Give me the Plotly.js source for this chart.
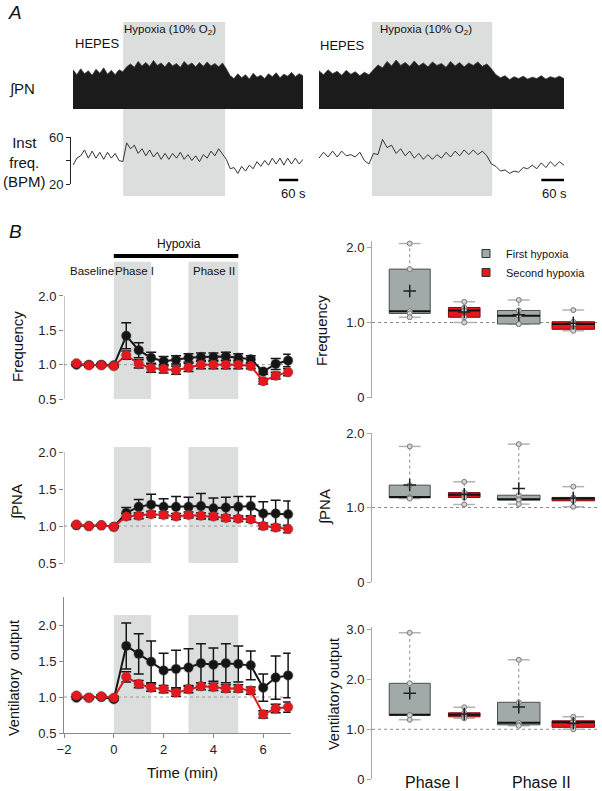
<!DOCTYPE html>
<html><head><meta charset="utf-8">
<script src="https://cdn.plot.ly/plotly-3.0.1.min.js"></script>
<style>html,body{margin:0;padding:0;background:#fff}</style>
</head><body><div id="chart" style="width:602px;height:791px"></div>
<script>
// ---------------- Panel A data (read from the recordings) ----------------
const leftPNStep = 12;   // s between envelope samples
const leftPNEnvelope = [0.80,0.70,0.82,0.72,0.78,0.69,0.81,0.73,0.84,0.71,0.79,0.70,0.80,0.76,
  0.86,0.92,0.85,0.97,0.88,0.95,0.87,0.99,0.89,0.94,0.86,0.96,0.88,0.93,0.85,0.97,0.89,0.94,0.86,0.95,0.87,0.96,0.88,0.93,0.86,0.94,
  0.82,0.68,0.62,0.72,0.64,0.70,0.61,0.73,0.65,0.69,0.62,0.72,0.66,0.74,0.64,0.71,0.67,0.75,0.66,0.72,0.68];
const leftFreqStep = 12;
const leftFreqBPM = [36,42,44,49,42,48,42,47,41,47,42,46,40,39,55,50,53,46,50,44,49,43,47,41,46,41,46,42,47,41,45,40,44,39,45,42,48,44,50,45,41,33,34,29,35,31,36,33,39,35,40,36,42,37,42,36,42,37,42,37,41];
const rightPNStep = 12;
const rightPNEnvelope = [0.78,0.70,0.80,0.72,0.77,0.69,0.79,0.71,0.76,0.68,0.75,0.70,
  0.80,0.90,0.84,0.97,0.88,1.00,0.89,0.95,0.87,0.98,0.88,0.94,0.86,0.96,0.89,0.93,0.85,0.97,0.88,0.95,0.86,0.94,0.89,0.96,0.87,0.92,
  0.82,0.70,0.64,0.68,0.60,0.66,0.62,0.67,0.61,0.65,0.62,0.68,0.61,0.66,0.63,0.67,0.62];
const rightFreqStep = 12;
const rightFreqBPM = [42,47,43,48,43,48,44,45,43,47,40,37,46,45,58,51,53,46,50,44,48,42,46,41,45,41,45,42,47,43,48,44,49,45,49,45,48,44,37,35,31,32,29,31,30,34,33,36,33,38,34,39,35,39,36];
const leftHypoxiaSec = [157, 476];
const rightHypoxiaSec = [140, 458];
const leftScaleBarSec = [645, 705];
const rightScaleBarSec = [588, 648];
const freqTickVals = [20, 60];
const freqMinorTick = [40];

// ---------------- Panel B time-course data ----------------
const timeMin = [-1.5,-1,-0.5,0,0.5,1,1.5,2,2.5,3,3.5,4,4.5,5,5.5,6,6.5,7];
const freqFirst     = [1.00,1.00,1.00,0.99,1.42,1.21,1.10,1.05,1.07,1.10,1.11,1.11,1.12,1.10,1.08,0.90,1.01,1.06];
const freqFirstErr  = [0.02,0.02,0.02,0.02,0.19,0.11,0.08,0.07,0.06,0.06,0.06,0.06,0.06,0.06,0.05,0.04,0.08,0.09];
const freqSecond    = [1.02,0.99,0.99,0.98,1.14,1.01,0.95,0.94,0.92,0.96,1.00,1.00,1.00,1.00,0.98,0.76,0.84,0.89];
const freqSecondErr = [0.02,0.02,0.02,0.02,0.06,0.06,0.06,0.06,0.06,0.06,0.06,0.06,0.06,0.06,0.04,0.04,0.05,0.05];
const pnaFirst      = [1.01,1.00,1.01,0.99,1.18,1.26,1.29,1.26,1.26,1.26,1.27,1.24,1.25,1.26,1.27,1.17,1.17,1.16];
const pnaFirstErr   = [0.01,0.01,0.01,0.01,0.07,0.10,0.14,0.11,0.14,0.13,0.17,0.14,0.14,0.14,0.13,0.16,0.18,0.18];
const pnaSecond     = [1.02,1.00,1.01,0.99,1.13,1.14,1.16,1.15,1.13,1.15,1.14,1.13,1.11,1.10,1.09,1.00,0.98,0.96];
const pnaSecondErr  = [0.01,0.01,0.01,0.01,0.04,0.04,0.04,0.04,0.04,0.04,0.04,0.04,0.04,0.04,0.04,0.04,0.04,0.05];
const ventFirst     = [0.99,0.99,1.00,0.97,1.71,1.60,1.49,1.37,1.39,1.41,1.47,1.45,1.47,1.46,1.44,1.13,1.27,1.30];
const ventFirstErr  = [0.02,0.02,0.02,0.02,0.32,0.28,0.29,0.24,0.26,0.26,0.27,0.23,0.27,0.25,0.20,0.19,0.30,0.31];
const ventSecond    = [1.02,0.99,1.01,0.99,1.28,1.18,1.13,1.11,1.06,1.11,1.15,1.14,1.12,1.12,1.09,0.76,0.84,0.86];
const ventSecondErr = [0.02,0.02,0.02,0.02,0.07,0.05,0.05,0.05,0.05,0.05,0.05,0.05,0.05,0.05,0.05,0.05,0.06,0.07];
const phaseIWindow = [0, 1.5];
const phaseIIWindow = [3, 5];
const hypoxiaWindow = [0, 5];
const timeTicks = [-2, 0, 2, 4, 6];

// ---------------- Panel B box-plot data (individual values) ----------------
const phaseNames = ['Phase I', 'Phase II'];
const groupNames = ['First hypoxia', 'Second hypoxia'];
const freqFirstPhaseI   = [2.05,1.71,1.15,1.12,1.07];
const freqFirstPhaseII  = [1.30,1.16,1.09,0.98,0.98];
const freqSecondPhaseI  = [1.275,1.20,1.16,1.07,1.00];
const freqSecondPhaseII = [1.165,1.01,0.98,0.91,0.89];
const pnaFirstPhaseI    = [1.82,1.30,1.14,1.13,1.12];
const pnaFirstPhaseII   = [1.85,1.165,1.11,1.10,1.045];
const pnaSecondPhaseI   = [1.345,1.20,1.17,1.135,1.04];
const pnaSecondPhaseII  = [1.28,1.135,1.12,1.09,1.01];
const ventFirstPhaseI   = [2.93,1.92,1.29,1.28,1.19];
const ventFirstPhaseII  = [2.39,1.54,1.13,1.09,1.07];
const ventSecondPhaseI  = [1.44,1.33,1.29,1.25,1.22];
const ventSecondPhaseII = [1.25,1.17,1.14,1.04,1.00];

// ---------------- helpers ----------------
const W = 602, H = 791;
const fx = p => p / W;
const fy = p => 1 - p / H;
const FONT = 'Liberation Sans, Arial, Helvetica, sans-serif';
const times = (n, step) => Array.from({length: n}, (_, i) => i * step);
const quant = (s, p) => { const pos = (s.length - 1) * p, lo = Math.floor(pos), hi = Math.ceil(pos); return s[lo] + (s[hi] - s[lo]) * (pos - lo); };
const BLACK = '#151515', RED = '#e8161d';
const SHADE = '#dcdedd';

const traces = [];
// Panel A traces
traces.push({x: times(leftPNEnvelope.length, leftPNStep), y: leftPNEnvelope, xaxis: 'x', yaxis: 'y', type: 'scatter', mode: 'lines', fill: 'tozeroy', fillcolor: '#1b1b1b', line: {color: '#3a3a3a', width: 0.8}, showlegend: false, hoverinfo: 'skip'});
traces.push({x: times(leftFreqBPM.length, leftFreqStep), y: leftFreqBPM, xaxis: 'x', yaxis: 'y2', type: 'scatter', mode: 'lines', line: {color: '#333', width: 1}, showlegend: false, hoverinfo: 'skip'});
traces.push({x: times(rightPNEnvelope.length, rightPNStep), y: rightPNEnvelope, xaxis: 'x2', yaxis: 'y3', type: 'scatter', mode: 'lines', fill: 'tozeroy', fillcolor: '#1b1b1b', line: {color: '#3a3a3a', width: 0.8}, showlegend: false, hoverinfo: 'skip'});
traces.push({x: times(rightFreqBPM.length, rightFreqStep), y: rightFreqBPM, xaxis: 'x2', yaxis: 'y4', type: 'scatter', mode: 'lines', line: {color: '#333', width: 1}, showlegend: false, hoverinfo: 'skip'});

// Panel B time-course traces
const series = [
  {ax: 'y5', first: freqFirst, firstErr: freqFirstErr, second: freqSecond, secondErr: freqSecondErr},
  {ax: 'y6', first: pnaFirst, firstErr: pnaFirstErr, second: pnaSecond, secondErr: pnaSecondErr},
  {ax: 'y7', first: ventFirst, firstErr: ventFirstErr, second: ventSecond, secondErr: ventSecondErr}
];
series.forEach(s => {
  [[s.first, s.firstErr, BLACK], [s.second, s.secondErr, RED]].forEach(([v, e, c]) => {
    traces.push({x: timeMin, y: v, xaxis: 'x3', yaxis: s.ax, type: 'scatter', mode: 'lines+markers',
      line: {color: c, width: 2}, marker: {color: c, size: 9.5, line: {color: 'rgba(70,70,70,0.3)', width: 1.5}},
      error_y: {type: 'data', array: e, visible: true, color: BLACK, thickness: 1.5, width: 5},
      showlegend: false, cliponaxis: false, hoverinfo: 'skip'});
  });
});

// Panel B box plots
const groupOffset = [-0.25, 0.25];
const boxWidths = [[0.376, 0.39], [0.29, 0.39]];
const capHalf = 0.1;
const boxFill = ['#a2aaa9', RED];
const boxLine = ['#4a4f4f', '#7a0a0e'];
const boxSets = [
  {ax: 'y8', data: [[freqFirstPhaseI, freqFirstPhaseII], [freqSecondPhaseI, freqSecondPhaseII]]},
  {ax: 'y9', data: [[pnaFirstPhaseI, pnaFirstPhaseII], [pnaSecondPhaseI, pnaSecondPhaseII]]},
  {ax: 'y10', data: [[ventFirstPhaseI, ventFirstPhaseII], [ventSecondPhaseI, ventSecondPhaseII]]}
];
boxSets.forEach(set => {
  set.data.forEach((groupData, g) => {
    const wx = [], wy = [], cx = [], cy = [], bx = [], by = [], mx = [], my = [], px = [], py = [], ax = [], ay = [];
    groupData.forEach((vals, p) => {
      const s = vals.slice().sort((a, b) => a - b);
      const c = p + groupOffset[g], w = boxWidths[g][p];
      const q1 = quant(s, 0.25), med = quant(s, 0.5), q3 = quant(s, 0.75);
      const lo = s[0], hi = s[s.length - 1];
      const mean = s.reduce((a, b) => a + b, 0) / s.length;
      wx.push(c, c, null); wy.push(lo, hi, null);
      cx.push(c - capHalf, c + capHalf, null, c - capHalf, c + capHalf, null); cy.push(hi, hi, null, lo, lo, null);
      bx.push(c - w / 2, c + w / 2, c + w / 2, c - w / 2, c - w / 2, null); by.push(q1, q1, q3, q3, q1, null);
      mx.push(c - w / 2, c + w / 2, null); my.push(med, med, null);
      vals.forEach(v => { px.push(c); py.push(v); });
      ax.push(c); ay.push(mean);
    });
    const common = {xaxis: 'x4', yaxis: set.ax, type: 'scatter', showlegend: false, hoverinfo: 'skip', cliponaxis: false};
    traces.push(Object.assign({}, common, {x: wx, y: wy, mode: 'lines', line: {color: '#8c8c8c', width: 1, dash: 'dot'}}));
    traces.push(Object.assign({}, common, {x: cx, y: cy, mode: 'lines', line: {color: '#b3b3b3', width: 1.5}}));
    traces.push(Object.assign({}, common, {x: bx, y: by, mode: 'lines', fill: 'toself', fillcolor: boxFill[g], line: {color: boxLine[g], width: 1}}));
    traces.push(Object.assign({}, common, {x: mx, y: my, mode: 'lines', line: {color: '#111', width: 2}}));
    traces.push(Object.assign({}, common, {x: px, y: py, mode: 'markers', marker: {symbol: 'circle', size: 5, color: '#d4d4d4', line: {color: '#7a7a7a', width: 1}}}));
    traces.push(Object.assign({}, common, {x: ax, y: ay, mode: 'markers', marker: {symbol: 'cross-thin', size: 9, color: '#222', line: {color: '#222', width: 1.5}}}));
  });
});
// legend entries
groupNames.forEach((n, g) => {
  traces.push({x: [null], y: [null], xaxis: 'x4', yaxis: 'y8', type: 'scatter', mode: 'markers', name: n,
    marker: {symbol: 'square', size: 8, color: boxFill[g], line: {color: '#333', width: 1}}, showlegend: true});
});

// ---------------- layout ----------------
const hidden = {visible: false, showgrid: false, zeroline: false};
const tickFont = {family: FONT, size: 13, color: '#222'};
const leftY = (top, bottom, range, showline) => ({domain: [fy(bottom), fy(top)], range: range, anchor: 'x3', showline: showline, linecolor: '#8a8a8a', linewidth: 1,
  ticks: 'outside', ticklen: 4, tickcolor: '#8a8a8a', tickvals: [0.5, 1, 1.5, 2], tickformat: '.1f', tickfont: tickFont, showgrid: false, zeroline: false});
const rightY = (top, bottom, range, vals) => ({domain: [fy(bottom), fy(top)], range: range, anchor: 'x4', showline: true, linecolor: '#a8a8a8', linewidth: 1,
  ticks: 'outside', ticklen: 4, tickcolor: '#a8a8a8', tickvals: vals, ticktext: vals.map(v => v === 0 ? '0' : v.toFixed(1)), tickfont: tickFont, showgrid: false, zeroline: false});

const xRange4 = [-0.596, 1.495];
const shapes = [];
// Panel A shading + scale bars
shapes.push({type: 'rect', xref: 'x', yref: 'paper', x0: leftHypoxiaSec[0], x1: leftHypoxiaSec[1], y0: fy(196), y1: fy(22), fillcolor: SHADE, line: {width: 0}, layer: 'below'});
shapes.push({type: 'rect', xref: 'x2', yref: 'paper', x0: rightHypoxiaSec[0], x1: rightHypoxiaSec[1], y0: fy(196), y1: fy(22), fillcolor: SHADE, line: {width: 0}, layer: 'below'});
shapes.push({type: 'line', xref: 'x', yref: 'paper', x0: leftScaleBarSec[0], x1: leftScaleBarSec[1], y0: fy(180), y1: fy(180), line: {color: '#000', width: 2.5}});
shapes.push({type: 'line', xref: 'x2', yref: 'paper', x0: rightScaleBarSec[0], x1: rightScaleBarSec[1], y0: fy(180), y1: fy(180), line: {color: '#000', width: 2.5}});
// Panel B left shading
[['y5', 2.5], ['y6', 2.07], ['y7', 2.14]].forEach(([ax, top]) => {
  [phaseIWindow, phaseIIWindow].forEach(w => shapes.push({type: 'rect', xref: 'x3', yref: ax, x0: w[0], x1: w[1], y0: 0.5, y1: top, fillcolor: SHADE, line: {width: 0}, layer: 'below'}));
  shapes.push({type: 'line', xref: 'x3', yref: ax, x0: -2, x1: 7.1, y0: 1, y1: 1, line: {color: '#9a9a9a', width: 1, dash: 'dot'}, layer: 'below'});
});
['y5', 'y6'].forEach(ax => shapes.push({type: 'line', xref: 'x3', yref: ax, x0: -2, x1: -2, y0: 0.5, y1: 2.0, line: {color: '#8a8a8a', width: 1}}));
shapes.push({type: 'line', xref: 'x3', yref: 'paper', x0: hypoxiaWindow[0], x1: hypoxiaWindow[1], y0: fy(256), y1: fy(256), line: {color: '#000', width: 4}});
['y8', 'y9', 'y10'].forEach(ax => shapes.push({type: 'line', xref: 'x4', yref: ax, x0: xRange4[0], x1: xRange4[1], y0: 1, y1: 1, line: {color: '#8a8a8a', width: 1, dash: 'dot'}, layer: 'below'}));

const ann = (x, y, text, size, extra) => Object.assign({xref: 'paper', yref: 'paper', x: fx(x), y: fy(y), text: text, showarrow: false,
  xanchor: 'center', yanchor: 'middle', font: {family: FONT, size: size, color: '#111'}}, extra || {});
const annotations = [
  ann(15, 13, '<i>A</i>', 19),
  ann(15, 232, '<i>B</i>', 19),
  ann(97, 44, 'HEPES', 13),
  ann(342, 45, 'HEPES', 13),
  ann(170, 30, 'Hypoxia (10% O<sub>2</sub>)', 11.5),
  ann(426, 30, 'Hypoxia (10% O<sub>2</sub>)', 11.5),
  ann(22, 89, '∫PN', 15),
  ann(24, 162, 'Inst<br>freq.<br>(BPM)', 15),
  ann(293, 193, '60 s', 13),
  ann(554, 193, '60 s', 13),
  ann(179, 244, 'Hypoxia', 12),
  ann(92, 271, 'Baseline', 11.5),
  ann(134, 271, 'Phase I', 11.5),
  ann(214, 271, 'Phase II', 11.5),
  ann(17, 347, 'Frequency', 15, {textangle: -90}),
  ann(17, 502, '∫PNA', 15, {textangle: -90}),
  ann(14, 678, 'Ventilatory  output', 14.5, {textangle: -90}),
  ann(182, 772, 'Time (min)', 15),
  ann(322, 330, 'Frequency', 15, {textangle: -90}),
  ann(325, 507, '∫PNA', 15, {textangle: -90}),
  ann(334, 694, 'Ventilatory output', 14.5, {textangle: -90})
];
phaseNames.forEach((n, i) => annotations.push({xref: 'x4', yref: 'paper', x: i, y: fy(782), text: n, showarrow: false, xanchor: 'center', yanchor: 'middle', xshift: -5, font: {family: FONT, size: 16, color: '#111'}}));

const layout = {
  width: W, height: H, margin: {l: 0, r: 0, t: 0, b: 0}, paper_bgcolor: '#fff', plot_bgcolor: 'rgba(0,0,0,0)',
  font: {family: FONT, color: '#111'},
  xaxis: Object.assign({domain: [fx(73), fx(303)], range: [0, 720], anchor: 'y'}, hidden),
  yaxis: Object.assign({domain: [fy(109), fy(60)], range: [0, 1], anchor: 'x'}, hidden),
  yaxis2: {domain: [fy(184), fy(137)], range: [20, 60], anchor: 'free', position: fx(70), showline: true, linecolor: '#222', linewidth: 1,
    ticks: 'outside', ticklen: 4, tickcolor: '#222', tickvals: freqTickVals, tickfont: tickFont, showgrid: false, zeroline: false,
    minor: {tickvals: freqMinorTick, ticks: 'outside', ticklen: 4, tickcolor: '#222', showgrid: false}},
  xaxis2: Object.assign({domain: [fx(319), fx(564)], range: [0, 648], anchor: 'y3'}, hidden),
  yaxis3: Object.assign({domain: [fy(109), fy(60)], range: [0, 1], anchor: 'x2'}, hidden),
  yaxis4: Object.assign({domain: [fy(184), fy(137)], range: [20, 60], anchor: 'x2'}, hidden),
  xaxis3: {domain: [fx(64), fx(290.6)], range: [-2, 7.1], anchor: 'y7', showline: true, linecolor: '#8a8a8a', linewidth: 1,
    ticks: 'outside', ticklen: 4, tickcolor: '#8a8a8a', tickvals: timeTicks, tickfont: tickFont, showgrid: false, zeroline: false},
  yaxis5: leftY(261.6, 399, [0.5, 2.5], false),
  yaxis6: leftY(447, 563, [0.5, 2.07], false),
  yaxis7: leftY(597, 733, [0.5, 2.39], true),
  xaxis4: {domain: [fx(372), fx(600)], range: xRange4, anchor: 'y10', showline: false, showticklabels: false, ticks: '', showgrid: false, zeroline: false},
  yaxis8: rightY(241.3, 397.7, [0, 2.08], [0, 1, 2]),
  yaxis9: rightY(433, 582, [0, 2.0], [0, 1, 2]),
  yaxis10: rightY(627.3, 779.3, [0, 3.04], [0, 1, 2, 3]),
  showlegend: true,
  legend: {x: fx(466), y: fy(239), xanchor: 'left', yanchor: 'top', bgcolor: 'rgba(0,0,0,0)', font: {family: FONT, size: 11, color: '#111'}, itemwidth: 30, tracegroupgap: 0},
  shapes: shapes,
  annotations: annotations
};

Plotly.newPlot('chart', traces, layout, {staticPlot: true, displayModeBar: false});
</script></body></html>
